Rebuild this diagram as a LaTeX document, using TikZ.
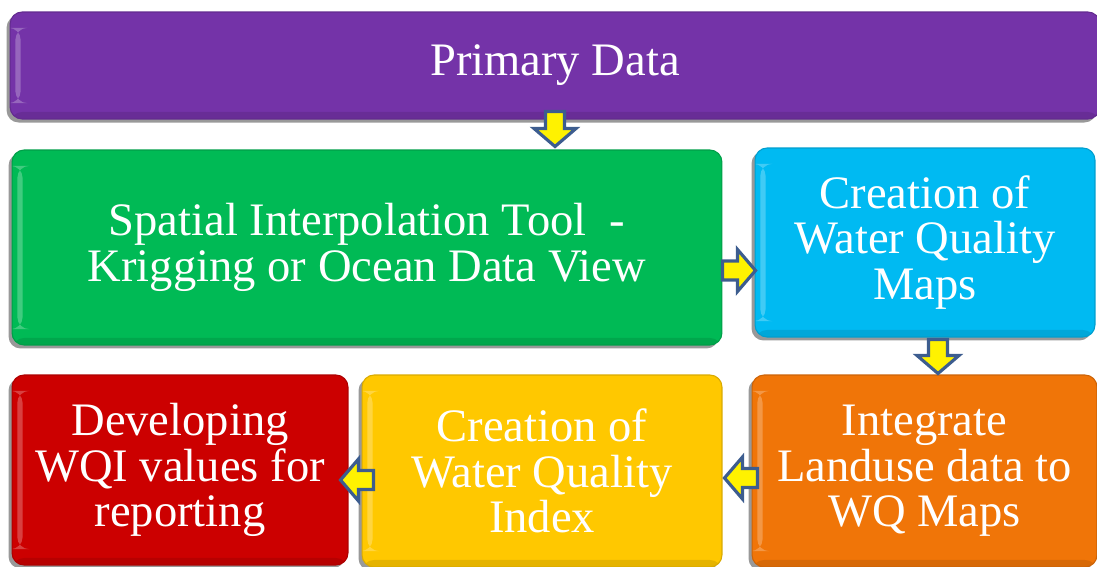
\documentclass[tikz,border=0pt]{standalone}
\usepackage{fontspec}
\setmainfont{Liberation Serif}
\usetikzlibrary{calc,shadows}

\definecolor{primpurple}{HTML}{7433A8}
\definecolor{krigreen}{HTML}{00BA55}
\definecolor{mapblue}{HTML}{00BAF2}
\definecolor{lusorange}{HTML}{F07508}
\definecolor{wqiyellow}{HTML}{FFC800}
\definecolor{devred}{HTML}{CC0000}
\definecolor{arrowblue}{HTML}{3D5D8F}

% block arrow between two points, tip at #2
\newcommand{\blockarrow}[2]{%
  \coordinate (ba-h) at ($(#2)!0.36cm!(#1)$);
  \draw[flowarrow] ($(#1)!0.19cm!90:(#2)$) -- ($(ba-h)!0.19cm!90:(#2)$)
    -- ($(ba-h)!0.42cm!90:(#2)$) -- (#2) -- ($(ba-h)!0.42cm!-90:(#2)$)
    -- ($(ba-h)!0.19cm!-90:(#2)$) -- ($(#1)!0.19cm!-90:(#2)$) -- cycle;}

\begin{document}
\begin{tikzpicture}[
    x=0.02cm, y=-0.02cm,
    box/.style={
      rounded corners=0.24cm, fill=#1, draw=#1!85!black, line width=0.6pt,
      text=white, align=center, inner sep=0pt,
      font=\fontsize{26.5}{25.8}\selectfont,
      drop shadow={shadow xshift=-2pt, shadow yshift=-2pt, fill=black!50, opacity=.8},
      path picture={
        \fill[white,opacity=.25] ([xshift=3pt,yshift=-9pt]path picture bounding box.north west)
          rectangle ([xshift=6pt,yshift=9pt]path picture bounding box.south west);
        \fill[black,opacity=.1] ([yshift=4pt]path picture bounding box.south west)
          rectangle (path picture bounding box.south east);}},
    flowarrow/.style={draw=arrowblue, fill=yellow, line width=1.8pt, line join=miter}
  ]
  \clip (0,0) rectangle (1097,567);

  % ---------- boxes ----------
  \node[box=primpurple, minimum width=21.8cm, minimum height=2.14cm] (prim) at (555,65.5) {Primary Data};
  \node[box=krigreen, minimum width=14.2cm, minimum height=3.9cm] (spatial) at (367,247.5)
    {Spatial Interpolation Tool \ -\\Krigging or Ocean Data View};
  \node[box=mapblue, minimum width=6.8cm, minimum height=3.78cm] (maps) at (925,242.5)
    {Creation of\\Water Quality\\Maps};
  \node[box=devred, minimum width=6.72cm, minimum height=3.8cm] (devel) at (180,470)
    {Developing\\WQI values for\\reporting};
  \node[box=wqiyellow, minimum width=7.2cm, minimum height=3.84cm] (wqi) at (542,471)
    {Creation of\\Water Quality\\Index};
  \node[box=lusorange, minimum width=6.9cm, minimum height=3.84cm] (land) at (924.5,471)
    {Integrate\\Landuse data to\\WQ Maps};

  % ---------- flow arrows ----------
  \coordinate (a1s) at ($(prim.south)+(0,-8)$);
  \coordinate (a1e) at ($(a1s |- spatial.north)+(0,-3)$);
  \blockarrow{a1s}{a1e}
  \coordinate (a2s) at ($(spatial.east)+(0,23)$);
  \coordinate (a2e) at ($(a2s -| maps.west)+(1,0)$);
  \blockarrow{a2s}{a2e}
  \coordinate (a3s) at ($(maps.south)+(13,2)$);
  \coordinate (a3e) at ($(a3s |- land.north)+(0,-1)$);
  \blockarrow{a3s}{a3e}
  \coordinate (a4s) at ($(land.west)+(6,7)$);
  \coordinate (a4e) at ($(a4s -| wqi.east)+(2,0)$);
  \blockarrow{a4s}{a4e}
  \coordinate (a5s) at ($(wqi.west)+(12,9)$);
  \coordinate (a5e) at ($(a5s -| devel.east)+(-8,0)$);
  \blockarrow{a5s}{a5e}
\end{tikzpicture}
\end{document}
